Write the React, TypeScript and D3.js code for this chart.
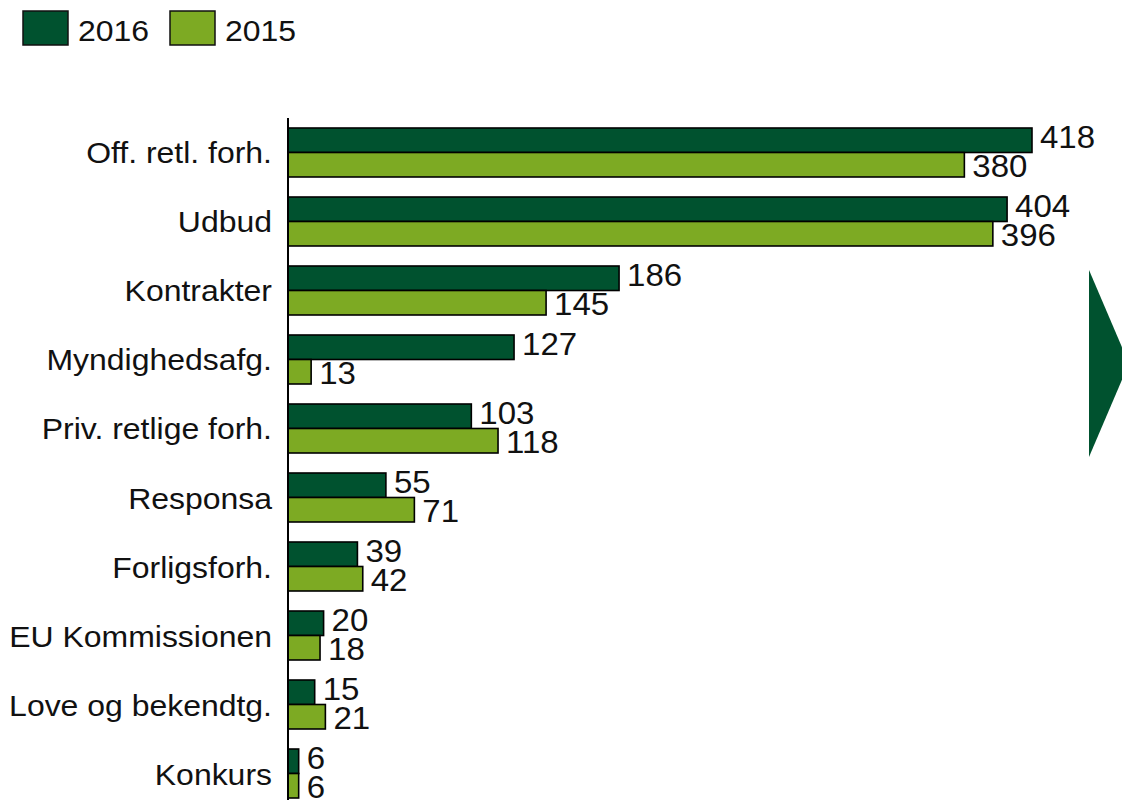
import React from "react";
import * as d3 from "d3";

const categories = [
  "Off. retl. forh.",
  "Udbud",
  "Kontrakter",
  "Myndighedsafg.",
  "Priv. retlige forh.",
  "Responsa",
  "Forligsforh.",
  "EU Kommissionen",
  "Love og bekendtg.",
  "Konkurs",
];
const values2016 = [418, 404, 186, 127, 103, 55, 39, 20, 15, 6];
const values2015 = [380, 396, 145, 13, 118, 71, 42, 18, 21, 6];
const seriesNames = ["2016", "2015"];

const DARK = "#00522F";
const LIGHT = "#7DAA23";
const FONT = "Liberation Sans, Arial, sans-serif";
const FS = 30;
const VFS = 31;
const SX = 1.065;

function T({
  x,
  y,
  anchor,
  size,
  children,
}: {
  x: number;
  y: number;
  anchor?: string;
  size: number;
  children: React.ReactNode;
}) {
  return (
    <text
      transform={`translate(${x},${y}) scale(${SX},1)`}
      fontSize={size}
      textAnchor={anchor || "start"}
      fill="#111"
    >
      {children}
    </text>
  );
}

export default function App() {
  const W = 1122;
  const H = 800;
  const x = d3.scaleLinear().domain([0, 418]).range([288, 1032]);
  const y = d3
    .scaleBand<string>()
    .domain(categories)
    .range([128, 798])
    .paddingInner(0.29)
    .paddingOuter(0);
  const bh = y.bandwidth() / 2;

  const arrow =
    d3.line()([
      [1089, 270],
      [1129, 363.5],
      [1089, 457],
    ]) + "Z";

  return (
    <svg
      width={W}
      height={H}
      style={{ position: "absolute", left: 0, top: 0, background: "#fff" }}
      fontFamily={FONT}
    >
      {seriesNames.map((s, i) => {
        const lx = i === 0 ? 23 : 170;
        return (
          <g key={s}>
            <rect
              x={lx}
              y={11}
              width={45}
              height={34}
              fill={i === 0 ? DARK : LIGHT}
              stroke="#111"
              strokeWidth={1.5}
            />
            <T x={lx + 55} y={41} size={30}>
              {s}
            </T>
          </g>
        );
      })}

      {categories.map((c, i) => {
        const top = y(c)!;
        return (
          <g key={c}>
            <T x={272} y={top + y.bandwidth() / 2 + 11} size={FS} anchor="end">
              {c}
            </T>
            <rect
              x={x(0)}
              y={top}
              width={x(values2016[i]) - x(0)}
              height={bh}
              fill={DARK}
              stroke="#000"
              strokeWidth={1.6}
            />
            <rect
              x={x(0)}
              y={top + bh}
              width={x(values2015[i]) - x(0)}
              height={bh}
              fill={LIGHT}
              stroke="#000"
              strokeWidth={1.6}
            />
            <T x={x(values2016[i]) + 8} y={top + bh / 2 - 3 + 11} size={VFS}>
              {values2016[i]}
            </T>
            <T x={x(values2015[i]) + 8} y={top + bh * 1.5 + 1 + 11} size={VFS}>
              {values2015[i]}
            </T>
          </g>
        );
      })}

      <line x1={288} x2={288} y1={118} y2={800} stroke="#000" strokeWidth={2} />

      <path d={arrow} fill={DARK} />
    </svg>
  );
}
